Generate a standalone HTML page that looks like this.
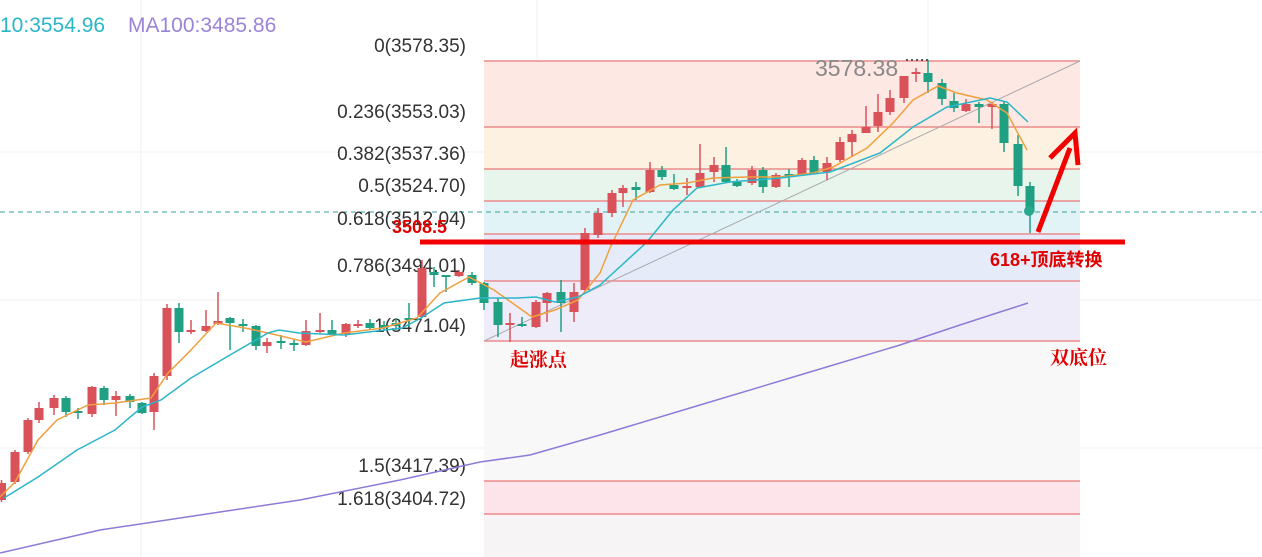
<!DOCTYPE html>
<html><head><meta charset="utf-8"><style>
html,body{margin:0;padding:0;background:#fff;}
svg{display:block;font-family:"Liberation Sans","Noto Sans CJK SC",sans-serif;}
</style></head><body>
<svg width="1262" height="557" viewBox="0 0 1262 557" xmlns="http://www.w3.org/2000/svg">
<g stroke="#f0f0f0" stroke-width="1">
<line x1="0" y1="152" x2="1262" y2="152"/><line x1="0" y1="300" x2="1262" y2="300"/><line x1="0" y1="448" x2="1262" y2="448"/>
<line x1="141" y1="0" x2="141" y2="557"/><line x1="537" y1="0" x2="537" y2="557"/><line x1="928" y1="0" x2="928" y2="557"/>
</g>
<rect x="484" y="61" width="596" height="66" fill="#fde8e3"/>
<rect x="484" y="127" width="596" height="42" fill="#fdf1e2"/>
<rect x="484" y="169" width="596" height="32" fill="#e7f5ec"/>
<rect x="484" y="201" width="596" height="33" fill="#e2f3f7"/>
<rect x="484" y="234" width="596" height="47" fill="#e6ebfa"/>
<rect x="484" y="281" width="596" height="60" fill="#efecfa"/>
<rect x="484" y="341" width="596" height="140" fill="#f8f8f8"/>
<rect x="484" y="481" width="596" height="33" fill="#fde3ea"/>
<rect x="484" y="514" width="596" height="43" fill="#f6f4f4"/>
<g stroke="#ec8a8a" stroke-width="1.5">
<line x1="484" y1="61" x2="1080" y2="61"/><line x1="484" y1="127" x2="1080" y2="127"/><line x1="484" y1="169" x2="1080" y2="169"/>
<line x1="484" y1="201" x2="1080" y2="201"/><line x1="484" y1="234" x2="1080" y2="234"/><line x1="484" y1="281" x2="1080" y2="281"/>
<line x1="484" y1="341" x2="1080" y2="341"/><line x1="484" y1="481" x2="1080" y2="481"/><line x1="484" y1="514" x2="1080" y2="514"/>
</g>
<line x1="0" y1="212" x2="1262" y2="212" stroke="#3aa69a" stroke-width="1" stroke-dasharray="5,4"/>
<line x1="484" y1="341" x2="1080" y2="61" stroke="#aaa" stroke-width="1"/>
<g font-size="19" fill="#333" text-anchor="end">
<text x="466" y="52">0(3578.35)</text>
<text x="466" y="118">0.236(3553.03)</text>
<text x="466" y="160">0.382(3537.36)</text>
<text x="466" y="192">0.5(3524.70)</text>
<text x="466" y="225">0.618(3512.04)</text>
<text x="466" y="272">0.786(3494.01)</text>
<text x="466" y="332">1(3471.04)</text>
<text x="466" y="472">1.5(3417.39)</text>
<text x="466" y="505">1.618(3404.72)</text>
</g>
<polyline fill="none" stroke-width="1.5" stroke="#8f7ad8" points="0,553 100,530 200,515 300,500 400,480 480,462 530,455 600,435 700,405 800,375 900,345 960,325 1000,312 1028,303"/>
<!-- red candles -->
<g fill="#d9525a">
<path fill="none" stroke="#d9525a" stroke-width="1.5" d="M1.5 480V502M15 450V484M28 418V454M39 402V423M54 395V415M92 386V417M116 391V416M154 373V430M167 304V380M191 320V334M206 310V332M218 292V325M267 338V353M306 320V346M320 313V333M346 323V337M358 320V328M422 260V318M459 270V277M510 313V342M536 300V328M547 292V322M574 283V322M585 228V292M598 208V238M612 190V217M623 185V207M650 162V193M687 178V195M700 144V188M714 157V182M752 166V185M776 173V188M802 158V176M827 157V180M840 137V162M852 130V157M866 106V133M878 94V132M890 90V115M904 76V103M916 68V82M966 99V112M992 102V129"/>
<rect x="-3" y="483" width="9" height="17"/><rect x="10.5" y="452" width="9" height="30"/><rect x="23.5" y="420" width="9" height="32"/><rect x="34.5" y="408" width="9" height="12"/><rect x="49.5" y="398" width="9" height="10"/><rect x="87.5" y="387" width="9" height="27"/><rect x="111.5" y="396" width="9" height="4"/><rect x="149.5" y="376" width="9" height="36"/><rect x="162.5" y="308" width="9" height="68"/><rect x="186.5" y="330" width="9" height="2"/><rect x="201.5" y="326" width="9" height="5"/><rect x="213.5" y="321" width="9" height="3"/><rect x="262.5" y="342" width="9" height="4"/><rect x="301.5" y="331" width="9" height="14"/><rect x="315.5" y="330" width="9" height="2"/><rect x="341.5" y="324" width="9" height="10"/><rect x="353.5" y="324" width="9" height="2"/><rect x="417.5" y="268" width="9" height="49"/><rect x="454.5" y="272" width="9" height="4"/><rect x="505.5" y="323" width="9" height="2"/><rect x="531.5" y="302" width="9" height="25"/><rect x="542.5" y="293" width="9" height="10"/><rect x="569.5" y="292" width="9" height="20"/><rect x="580.5" y="233" width="9" height="57"/><rect x="593.5" y="213" width="9" height="22"/><rect x="607.5" y="193" width="9" height="20"/><rect x="618.5" y="188" width="9" height="5"/><rect x="645.5" y="170" width="9" height="22"/><rect x="682.5" y="186" width="9" height="2"/><rect x="695.5" y="173" width="9" height="14"/><rect x="709.5" y="165" width="9" height="7"/><rect x="747.5" y="170" width="9" height="13"/><rect x="771.5" y="175" width="9" height="12"/><rect x="797.5" y="160" width="9" height="15"/><rect x="822.5" y="163" width="9" height="9"/><rect x="835.5" y="142" width="9" height="18"/><rect x="847.5" y="134" width="9" height="8"/><rect x="861.5" y="127" width="9" height="6"/><rect x="873.5" y="112" width="9" height="14"/><rect x="885.5" y="98" width="9" height="14"/><rect x="899.5" y="76" width="9" height="22"/><rect x="911.5" y="72" width="9" height="2"/><rect x="961.5" y="104" width="9" height="7"/><rect x="987.5" y="104" width="9" height="3"/>
</g>
<!-- green candles -->
<g fill="#1fa083">
<path fill="none" stroke="#1fa083" stroke-width="1.5" d="M66 396V417M78 408V419M104 386V405M130 394V408M142 402V414M179 303V343M230 317V350M243 319V332M256 325V350M281 335V349M294 340V351M332 320V335M370 319V330M384 321V330M396 318V330M409 303V327M434 267V287M446 275V292M472 272V285M484 282V310M498 298V337M522 317V327M561 280V332M636 182V200M662 166V180M674 174V190M726 147V183M737 179V187M763 167V193M789 169V187M814 156V174M928 60V93M942 79V105M954 93V112M979 102V123M1004 102V152M1018 135V196M1030 182V233"/>
<rect x="61.5" y="398" width="9" height="14"/><rect x="73.5" y="411" width="9" height="2"/><rect x="99.5" y="388" width="9" height="12"/><rect x="125.5" y="396" width="9" height="6"/><rect x="137.5" y="403" width="9" height="10"/><rect x="174.5" y="308" width="9" height="24"/><rect x="225.5" y="318" width="9" height="5"/><rect x="238.5" y="324" width="9" height="2"/><rect x="251.5" y="326" width="9" height="20"/><rect x="276.5" y="341" width="9" height="2"/><rect x="289.5" y="343" width="9" height="2"/><rect x="327.5" y="330" width="9" height="4"/><rect x="365.5" y="323" width="9" height="5"/><rect x="379.5" y="325" width="9" height="3"/><rect x="391.5" y="323" width="9" height="3"/><rect x="404.5" y="318" width="9" height="2"/><rect x="429.5" y="272" width="9" height="3"/><rect x="441.5" y="275" width="9" height="2"/><rect x="467.5" y="275" width="9" height="8"/><rect x="479.5" y="283" width="9" height="20"/><rect x="493.5" y="302" width="9" height="23"/><rect x="517.5" y="324" width="9" height="2"/><rect x="556.5" y="292" width="9" height="11"/><rect x="631.5" y="187" width="9" height="3"/><rect x="657.5" y="170" width="9" height="7"/><rect x="669.5" y="185" width="9" height="4"/><rect x="721.5" y="165" width="9" height="17"/><rect x="732.5" y="182" width="9" height="4"/><rect x="758.5" y="170" width="9" height="17"/><rect x="784.5" y="174" width="9" height="2"/><rect x="809.5" y="160" width="9" height="13"/><rect x="923.5" y="73" width="9" height="9"/><rect x="937.5" y="83" width="9" height="16"/><rect x="949.5" y="101" width="9" height="7"/><rect x="974.5" y="104" width="9" height="3"/><rect x="999.5" y="104" width="9" height="39"/><rect x="1013.5" y="144" width="9" height="42"/><rect x="1025.5" y="186" width="9" height="26"/>
</g>
<g fill="none" stroke-width="1.5">
<polyline stroke="#f0a040" points="0,497 15,482 38,440 57,420 88,405 115,403 151,398 168,373 191,350 216,323 245,328 268,333 306,342 344,333 383,328 417,318 440,293 469,277 494,290 532,317 555,310 578,300 600,273 610,248 633,200 660,185 687,183 713,178 747,177 780,177 813,173 833,167 867,148 893,123 913,100 938,86 957,93 987,100 1007,113 1027,150"/>
<polyline stroke="#2bb6c8" points="4,498 38,477 77,450 115,430 142,407 161,400 191,378 230,355 268,333 279,330 299,333 344,335 402,328 421,318 444,303 480,298 517,298 536,297 555,302 578,297 600,285 647,242 673,210 697,188 730,182 780,178 830,172 880,153 913,127 947,107 990,98 1007,102 1028,122"/>
</g>
<circle cx="1029" cy="211" r="5" fill="#2aa88f"/>
<line x1="420" y1="242" x2="1125" y2="242" stroke="#f20000" stroke-width="5"/>
<text x="392" y="233" font-size="18" font-weight="bold" fill="#e00000">3508.5</text>
<line x1="1038" y1="232" x2="1070" y2="148" stroke="#f20000" stroke-width="5"/>
<polyline points="1050,158 1075,133 1078,165" fill="none" stroke="#f20000" stroke-width="5"/>
<text x="990" y="266" font-size="18" font-weight="bold" fill="#e00000">618+顶底转换</text>
<text x="1050" y="364" font-size="19" font-weight="bold" fill="#e00000" font-family="'Noto Serif CJK SC',serif">双底位</text>
<text x="510" y="366" font-size="19" font-weight="bold" fill="#e00000" font-family="'Noto Serif CJK SC',serif">起涨点</text>
<text x="815" y="76" font-size="23" fill="#888">3578.38</text>
<line x1="906" y1="60" x2="928" y2="60" stroke="#555" stroke-width="2" stroke-dasharray="2,3"/>
<text x="0" y="32" font-size="21" fill="#2bb6c8">10:3554.96</text>
<text x="128" y="32" font-size="21" fill="#9b84d8">MA100:3485.86</text>
</svg>
</body></html>
